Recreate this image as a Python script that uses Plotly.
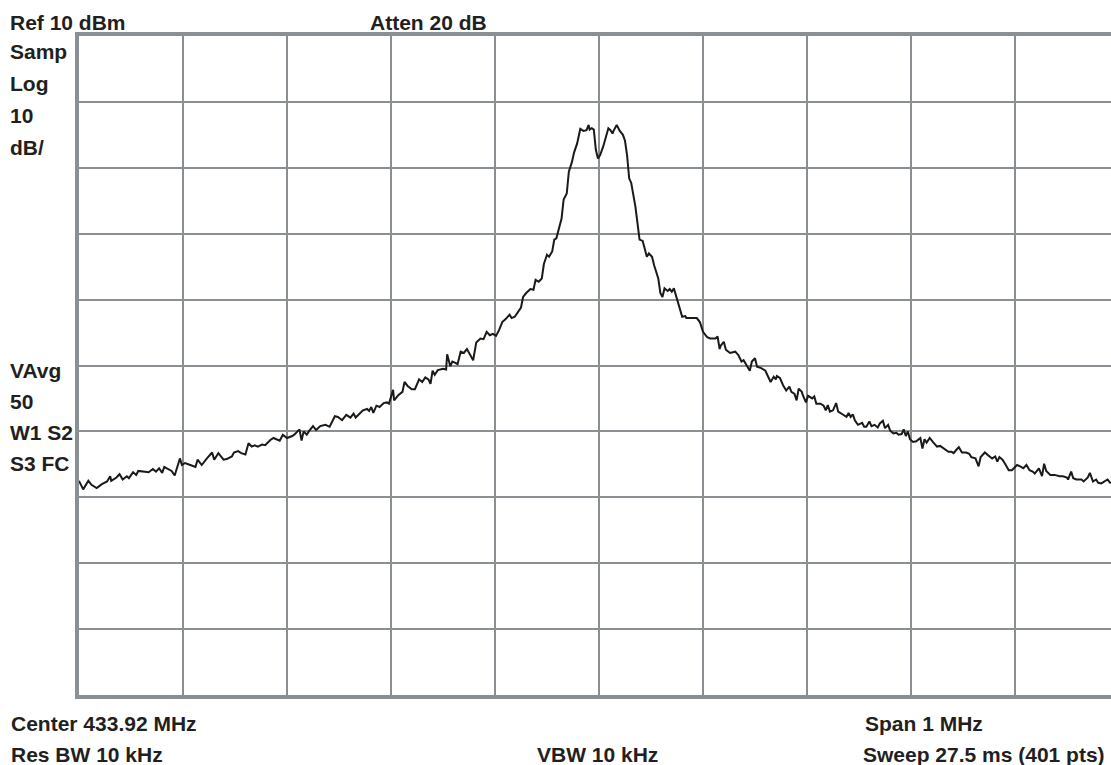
import plotly.graph_objects as go

# Spectrum analyzer settings
center_mhz = 433.92
span_mhz = 1.0
ref_level_dbm = 10
db_per_div = 10

# Trace: offset from centre (kHz) and level (dBm)
freq_offset_khz = [
    -500, -496, -491, -488, -483, -478, -473, -470, -469, -464, -461, -458, -454, -452, -448, -445,
    -443, -439, -433, -429, -426, -423, -420, -418, -414, -411, -408, -403, -401, -398, -393, -388,
    -386, -382, -377, -372, -370, -366, -361, -358, -353, -351, -347, -344, -340, -337, -334, -331,
    -328, -324, -321, -316, -313, -310, -307, -304, -300, -295, -293, -288, -286, -284, -281, -279,
    -275, -272,
    -268, -263, -259, -254, -251, -247, -243, -239, -236, -234, -230, -227, -223, -221, -219, -217,
    -214, -211, -207, -204, -202, -198, -197, -193, -189, -187, -184, -180, -177, -173, -170, -167,
    -164, -162, -160, -158, -155, -150, -147, -146, -143, -141, -138, -136, -133, -130, -127, -124,
    -121, -118, -114, -111, -108, -105, -102, -99, -96, -93, -90, -86, -84, -81, -78, -75, -73, -70,
    -66, -63, -61, -58, -55, -53, -50, -48, -45, -43, -41, -38, -36, -34, -31, -29, -26, -24, -21,
    -18, -15, -12, -10, -9, -7, -5, -3, -1, 1, 4, 7, 9, 11, 13, 14, 17, 20, 23, 25, 27, 29, 31, 35,
    37, 39, 42, 44, 46, 48, 51, 53, 55, 57, 59, 61, 63, 66, 68, 70, 72, 75, 77, 80, 83, 84, 88, 94, 97,
    100, 104, 107, 112, 114, 116, 117, 120, 122, 126, 131, 134, 137, 139, 141, 145, 147, 150, 152,
    156, 160, 162, 165, 168, 170, 171, 174, 177, 180, 183, 185, 188, 190, 192, 195, 196, 199, 201,
    205, 207, 209, 213, 216, 218, 220, 222, 225, 228, 230, 234, 238, 240, 242, 244, 246, 249, 253,
    255, 257, 260, 262, 265, 268,
    270, 273, 275, 278, 280, 283, 286, 288, 291, 293, 295, 297, 299, 302, 305, 309, 311, 313, 315,
    318, 321, 325, 328, 332, 336, 339, 341, 343, 346, 349, 353, 356, 358, 362, 365, 367, 369, 371,
    374, 378, 381, 383, 385, 388, 390, 394, 397, 400, 402, 405, 408, 411, 414, 417, 419, 423, 426,
    428, 430, 434, 438, 443, 446, 450, 451, 454, 456, 459, 464, 466, 470, 472, 475, 478, 480, 483,
    487, 489, 492,
]

level_dbm = [
    -57.5, -58.8, -57.5, -58.1, -58.6, -58.0, -57.6, -56.8, -57.5, -57.0, -56.5, -57.3, -56.8, -57.1,
    -56.2, -56.6, -56.0, -56.1, -56.2, -55.7, -56.1, -55.6, -56.3, -55.4, -55.7, -56.0, -56.7, -54.1,
    -55.1, -54.8, -55.1, -55.4, -54.3, -55.1, -54.1, -53.2, -54.3, -53.3, -54.3, -54.2, -53.8, -53.2,
    -53.0, -53.3, -53.5, -51.8, -52.3, -52.1, -52.3, -52.0, -52.1, -51.3, -51.0, -51.2, -51.4, -50.5,
    -51.0, -50.7, -50.5, -49.7, -51.4, -50.0, -50.5, -50.0, -49.2, -49.8,
    -49.2, -49.0, -49.3, -47.7, -47.8, -48.3, -47.5, -47.9, -47.3, -47.9, -47.3, -46.8, -46.6, -46.9,
    -46.3, -47.2, -46.1, -46.3, -45.7, -45.6, -45.8, -43.7, -45.3, -44.5, -44.0, -42.5, -43.1, -43.6,
    -43.6, -42.1, -42.5, -41.8, -42.1, -42.8, -40.8, -41.4, -40.7, -40.5, -40.6, -38.3, -40.1, -39.4,
    -39.6, -39.8, -37.9, -38.1, -37.5, -38.3, -39.2, -36.5, -35.9, -36.0, -34.9, -35.4, -35.2, -35.5,
    -34.6, -33.4, -33.0, -32.3, -32.8, -32.6, -31.8, -31.2, -29.6, -29.0,
    -28.4, -28.5, -27.0, -27.3, -26.8, -24.6, -23.2, -23.5, -22.7, -20.9, -20.7, -18.9, -17.7, -14.8,
    -13.9, -10.6, -9.1, -7.7, -6.3, -4.1, -4.4, -4.3, -3.5, -4.2, -4.0, -4.2, -7.3, -8.6, -8.1, -6.8,
    -5.3, -4.0, -4.3, -4.8, -4.4, -3.5, -4.4, -5.0, -5.9, -8.1, -11.6, -12.3, -15.9, -18.4, -20.9,
    -21.1, -22.4, -23.5, -23.0, -23.5, -24.8, -25.8, -26.8, -29.0, -29.6, -28.3, -28.7, -28.4, -28.8,
    -28.3, -30.0, -31.3, -32.6, -32.5, -32.8, -32.8, -32.8, -33.4,
    -34.9, -35.7, -35.9, -35.9, -35.6, -37.5, -37.0, -36.4, -37.6, -38.1, -37.9, -38.4, -39.4, -39.2,
    -39.7, -40.8, -39.4, -38.9, -40.2, -40.4, -40.8, -41.4, -42.5, -41.7, -42.1, -41.6, -41.9, -43.0,
    -43.8, -43.2, -44.0, -44.3, -45.3, -43.5, -44.0, -44.5, -45.6, -44.6, -45.0, -44.7, -45.8, -45.8,
    -46.1, -46.8, -46.0, -47.0, -46.8, -45.7, -47.0, -47.4, -47.8, -47.2, -47.8, -47.4, -48.3, -49.0,
    -48.7, -49.3, -49.3, -48.5, -49.2, -49.0, -49.4,
    -48.8, -48.4, -49.5, -49.0, -49.9, -50.3, -50.2, -50.5, -50.4, -49.7, -50.7, -50.0, -51.2, -51.6,
    -51.5, -51.0, -52.6, -51.2, -51.7, -51.0, -51.6, -52.3, -52.2, -52.7, -53.1, -53.1, -53.3, -52.9,
    -52.4, -53.2, -53.2, -53.4, -53.9, -54.1, -55.3, -53.9, -53.6, -53.2, -53.6, -54.1, -53.8, -54.6,
    -53.9, -54.3, -54.8, -55.9, -55.9, -55.4, -55.1, -55.3, -55.6, -55.1, -55.9, -56.1, -56.4, -55.6,
    -56.8, -54.9, -56.0, -56.6, -56.6, -56.8, -56.8, -57.0, -57.3, -56.1, -57.1, -57.3, -57.3, -57.6,
    -57.0, -56.3, -57.6, -57.3, -57.8, -57.9, -57.5, -57.3, -57.9,
]

# Annotation texts
left_labels = ["Samp", "Log", "10", "dB/"]
left_labels_lower = ["VAvg", "50", "W1 S2", "S3 FC"]

n = min(len(freq_offset_khz), len(level_dbm))
freq_mhz = [center_mhz + f / 1000.0 for f in freq_offset_khz[:n]]
levels = level_dbm[:n]

W, H = 1111, 765
L, T, B = 79, 36, 70
plot_w = W - L
plot_h = H - T - B
start = center_mhz - span_mhz / 2
px_per_mhz = 1040.0  # one division = 104 px
x_end = start + plot_w / px_per_mhz

fig = go.Figure()
fig.add_trace(go.Scatter(
    x=freq_mhz, y=levels, mode="lines",
    line=dict(color="#1a1a1a", width=2),
    hoverinfo="skip", showlegend=False,
))

grid = "#8a8f94"
fig.update_xaxes(
    range=[start, x_end], tick0=start, dtick=span_mhz / 10,
    showticklabels=False, ticks="", showgrid=True, gridcolor=grid, gridwidth=2,
    zeroline=False, showline=True, linecolor=grid, linewidth=4, mirror=True,
)
fig.update_yaxes(
    range=[ref_level_dbm - 10 * db_per_div, ref_level_dbm], dtick=db_per_div,
    showticklabels=False, ticks="", showgrid=True, gridcolor=grid, gridwidth=2,
    zeroline=False, showline=True, linecolor=grid, linewidth=4,
)

txt_font = dict(family="Liberation Sans, Arial, sans-serif", size=21, color="#231f20")


def px_to_paper(px, py):
    return (px - L) / plot_w, (H - B - py) / plot_h


def add_label(text, px, py):
    xp, yp = px_to_paper(px, py)
    fig.add_annotation(
        x=xp, y=yp, xref="paper", yref="paper", text="<b>" + text + "</b>",
        showarrow=False, xanchor="left", yanchor="middle", font=txt_font,
        borderpad=0,
    )


add_label("Ref 10 dBm", 9, 22)
add_label("Atten 20 dB", 369, 22)
for i, t in enumerate(left_labels):
    add_label(t, 9, 52 + i * 31.7)
for i, t in enumerate(left_labels_lower):
    add_label(t, 9, 370 + i * 31.3)
add_label("Center 433.92 MHz", 10, 723)
add_label("Res BW 10 kHz", 10, 755)
add_label("VBW 10 kHz", 536, 755)
add_label("Span 1 MHz", 864, 723)
add_label("Sweep 27.5 ms (401 pts)", 862, 755)

fig.update_layout(
    width=W, height=H,
    margin=dict(l=L, r=0, t=T, b=B, pad=0),
    paper_bgcolor="white", plot_bgcolor="white",
    showlegend=False,
)

fig.write_html("out.html", config={"displayModeBar": False},
               post_script="document.body.style.margin='0';document.body.style.overflow='hidden';")
